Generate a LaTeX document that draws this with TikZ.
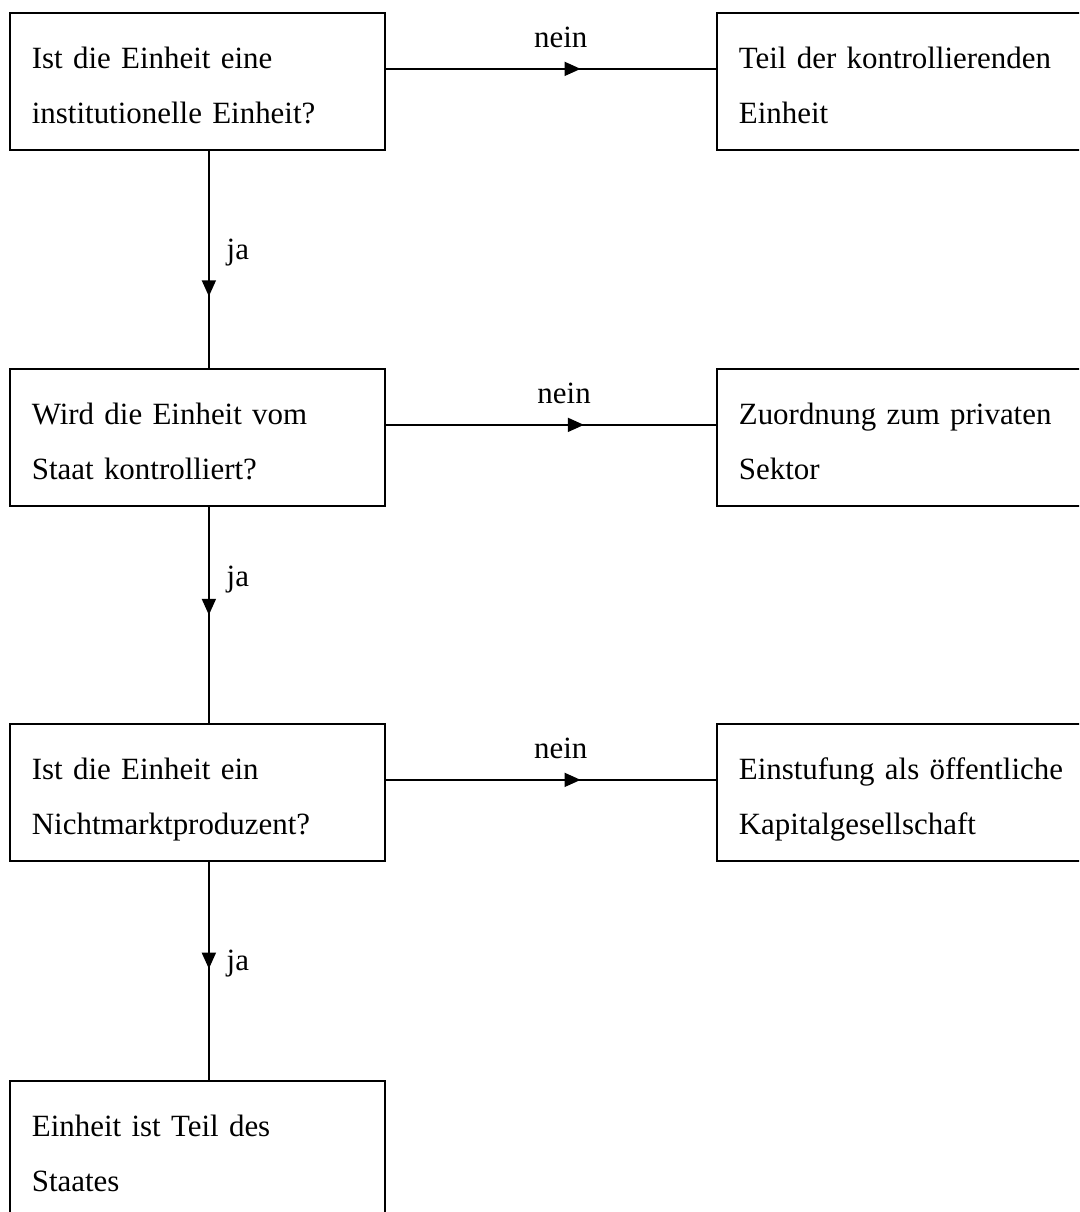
\documentclass[tikz,border=0pt]{standalone}
\usepackage{fontspec}
\setmainfont{Liberation Serif}
\usepackage{tikz}
\usetikzlibrary{arrows.meta}
\usetikzlibrary{decorations.markings}

\begin{document}
\begin{tikzpicture}[
    box node/.style={draw, line width=1pt, rectangle, anchor=north west, align=left,
      text width=6.62cm, inner xsep=0.44cm, inner ysep=0pt,
      text height=1.12cm, text depth=1.62cm, font=\fontsize{17.6}{31.3}\selectfont},
    edge text/.style={font=\fontsize{17.6}{21}\selectfont, inner sep=0pt},
    flow/.style={line width=0.9pt},
    midarrow/.style={postaction={decorate, decoration={markings,
      mark=at position #1 with {\arrow{Triangle[length=0.32cm, width=0.28cm]}}}}},
    ]
  \useasboundingbox (0,0) rectangle (21.58,-24.24);
  \clip (0,0) rectangle (21.58,-24.24);

  \node[box node] (q1) at (0.18,-0.24) {Ist die Einheit eine\\ institutionelle Einheit?};
  \node[box node] (r1) at (14.32,-0.24) {Teil der kontrollierenden\\ Einheit};
  \node[box node] (q2) at (0.18,-7.36) {Wird die Einheit vom\\ Staat kontrolliert?};
  \node[box node] (r2) at (14.32,-7.36) {Zuordnung zum privaten\\ Sektor};
  \node[box node] (q3) at (0.18,-14.46) {Ist die Einheit ein\\ Nichtmarktproduzent?};
  \node[box node] (r3) at (14.32,-14.46) {\mbox{Einstufung als öffentliche}\\ Kapitalgesellschaft};
  \node[box node] (q4) at (0.18,-21.6) {Einheit ist Teil des\\ Staates};

  % nein
  \draw[flow, midarrow=0.59] (q1.base east) -- node[edge text, pos=0.53, anchor=base, yshift=0.42cm] (n1) {nein} (r1.base west);
  \draw[flow, midarrow=0.6] (q2.base east) -- node[edge text, pos=0.54, anchor=base, yshift=0.42cm] (n2) {nein} (r2.base west);
  \draw[flow, midarrow=0.59] (q3.base east) -- node[edge text, pos=0.53, anchor=base, yshift=0.42cm] (n3) {nein} (r3.base west);

  % ja
  \draw[flow, midarrow=0.67] ([xshift=0.23cm]q1.south) -- node[edge text, pos=0.5, anchor=base west, xshift=0.34cm] (j1) {ja} ([xshift=0.23cm]q2.north);
  \draw[flow, midarrow=0.5] ([xshift=0.23cm]q2.south) -- node[edge text, pos=0.37, anchor=base west, xshift=0.34cm] (j2) {ja} ([xshift=0.23cm]q3.north);
  \draw[flow, midarrow=0.49] ([xshift=0.23cm]q3.south) -- node[edge text, pos=0.5, anchor=base west, xshift=0.34cm] (j3) {ja} ([xshift=0.23cm]q4.north);
\end{tikzpicture}
\end{document}
